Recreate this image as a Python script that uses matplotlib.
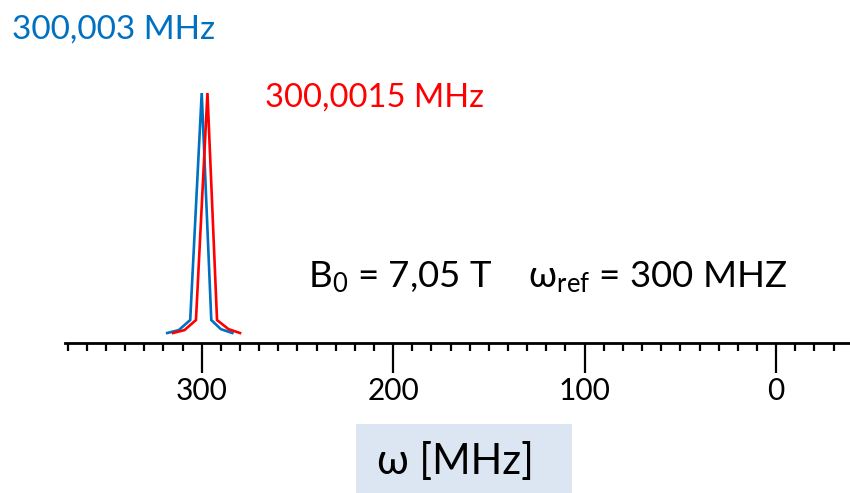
import matplotlib
matplotlib.use("Agg")
import matplotlib.pyplot as plt
from matplotlib.patches import Rectangle
from matplotlib.ticker import MultipleLocator

plt.rcParams['font.family'] = ['Lato', 'DejaVu Sans']
plt.rcParams['mathtext.default'] = 'regular'

# data (frequency axis in MHz offset units, intensity normalized)
blue_x = [318, 312, 306, 300, 295, 290, 284]
blue_y = [0.0, 0.012, 0.054, 1.0, 0.054, 0.016, 0.0]
red_x = [315, 309, 303, 297, 292, 286, 280]
red_y = [0.0, 0.012, 0.054, 1.0, 0.054, 0.016, 0.0]
major_ticks = [300, 200, 100, 0]
major_labels = ['300', '200', '100', '0']

BLUE = '#0070c0'
RED = '#ff0000'

W, H = 850, 493
fig = plt.figure(figsize=(W / 100, H / 100), dpi=100)

def fx(px):
    return px / W

def fy(py):
    return 1 - py / H

ax_left, ax_right = 65, 850
ax_bottom, ax_top = 342.5, 93
ax = fig.add_axes([fx(ax_left), fy(ax_bottom), fx(ax_right - ax_left), (ax_bottom - ax_top) / H])
ax.plot(blue_x, blue_y, color=BLUE, lw=1.9, solid_joinstyle='miter')
ax.plot(red_x, red_y, color=RED, lw=1.9, solid_joinstyle='miter')
ax.set_xlim(371.4, -38.6)
ax.set_ylim(-0.0396, 1.0)

for s in ['top', 'left', 'right']:
    ax.spines[s].set_visible(False)
ax.spines['bottom'].set_linewidth(2.0)
ax.set_yticks([])
ax.set_xticks(major_ticks)
ax.set_xticklabels(major_labels, fontsize=21.5)
ax.xaxis.set_minor_locator(MultipleLocator(10))
ax.tick_params(axis='x', which='major', length=21.5, width=1.6, direction='out', pad=3)
ax.tick_params(axis='x', which='minor', length=5.5, width=1.6, direction='out')
ax.patch.set_alpha(0)

# annotations
fig.text(fx(12), fy(39), '300,003 MHz', color=BLUE, fontsize=24, ha='left', va='baseline')
fig.text(fx(265), fy(107), '300,0015 MHz', color=RED, fontsize=23.5, ha='left', va='baseline')
fig.text(fx(308), fy(287), r'B$_0$ = 7,05 T    ω$_{ref}$ = 300 MHZ', color='black',
         fontsize=26.4, ha='left', va='baseline')

# axis title box
fig.patches.append(Rectangle((fx(356), 0), fx(572 - 356), (H - 424) / H,
                             transform=fig.transFigure, facecolor='#dce6f2',
                             edgecolor='none', zorder=0))
fig.text(fx(377), fy(474), 'ω [MHz]', color='black', fontsize=30, ha='left', va='baseline')

fig.savefig('out.png', dpi=100)
